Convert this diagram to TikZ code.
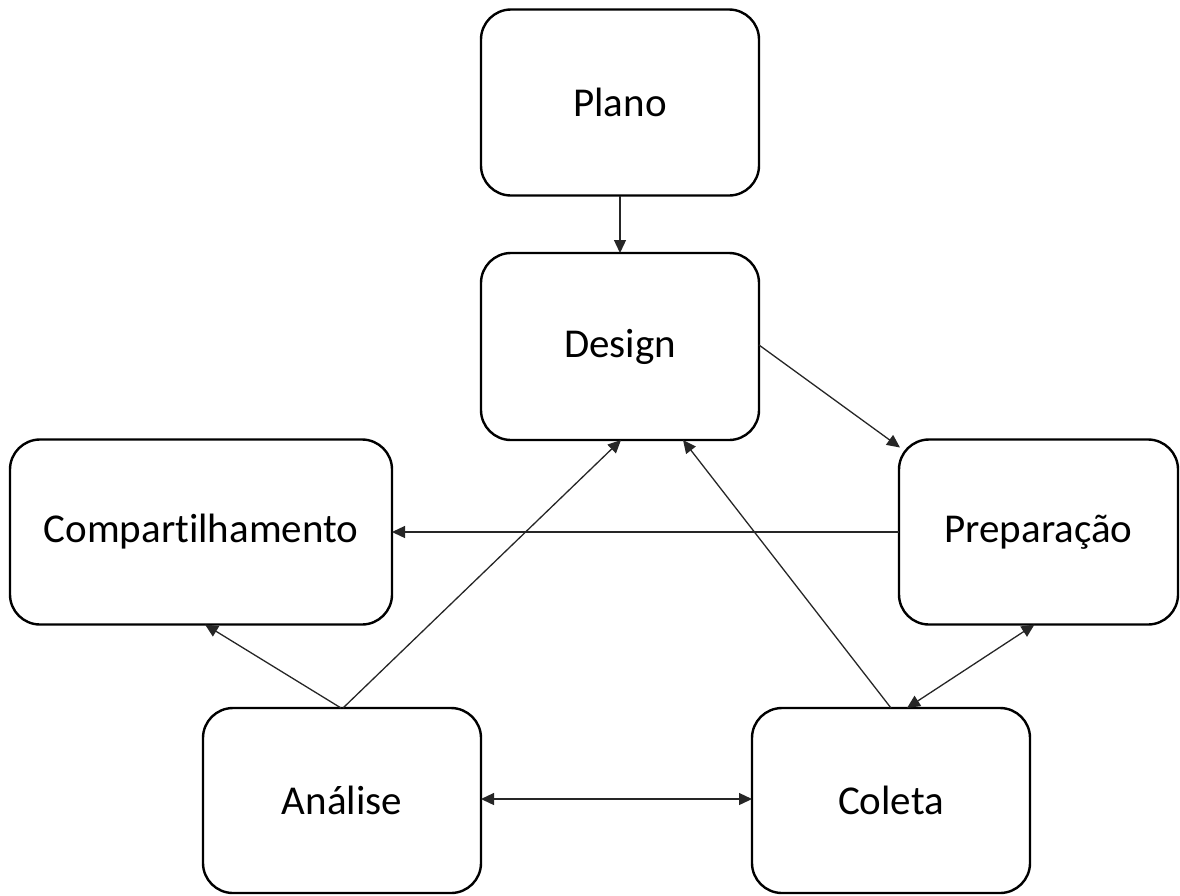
\documentclass[tikz,border=0pt]{standalone}
\usepackage{fontspec}
\setmainfont[Ligatures=NoCommon]{Carlito}
\usetikzlibrary{arrows.meta,calc}
\begin{document}
\begin{tikzpicture}[x=1pt,y=-1pt,
  box/.style={draw=black,line width=2.4pt,rounded corners=30pt,fill=white,
    minimum width=278pt,minimum height=186pt,inner sep=0pt,outer sep=0pt,
    font=\fontsize{41}{49}\selectfont},
  conn/.style={line width=1.3pt,draw=black!85,-{Triangle[length=13pt,width=12pt]}},
  dconn/.style={line width=1.3pt,draw=black!85,{Triangle[length=13pt,width=12pt]}-{Triangle[length=13pt,width=12pt]}}]
\useasboundingbox (0,0) rectangle (1180,895);
\node[box] (plano) at (620,102.5) {Plano};
\node[box,minimum height=187pt] (design) at (620,346.5) {Design};
\node[box,minimum width=382pt,minimum height=185pt] (comp) at (201,532) {Compartilhamento};
\node[box,minimum width=279pt,minimum height=185pt] (prep) at (1038.5,532) {Preparação};
\node[box,minimum height=185pt] (analise) at (342,800.5) {Análise};
\node[box,minimum height=185pt] (coleta) at (891,800.5) {Coleta};
\draw[conn] (plano.south) -- (design.north);
\draw[conn] ([yshift=1.5pt]design.east) -- ($(prep.north west)+(1,8)$);
\draw[conn] (prep.west) -- (comp.east);
\draw[conn] ([xshift=-1pt]analise.north) -- ([xshift=4pt]comp.south);
\draw[conn] ([xshift=1pt]analise.north) -- ([xshift=1pt]design.south);
\draw[conn] (coleta.north) -- ([xshift=63pt]design.south);
\draw[dconn] ([xshift=16pt]coleta.north) -- ([xshift=-4pt]prep.south);
\draw[dconn] ([yshift=1.5pt]analise.east) -- ([yshift=1.5pt]coleta.west);
\end{tikzpicture}
\end{document}
